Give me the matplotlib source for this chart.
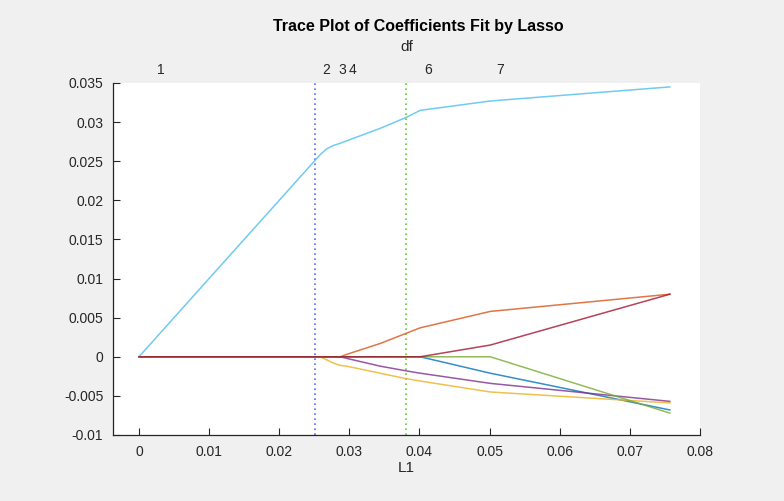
import numpy as np
import matplotlib
matplotlib.use('Agg')
import matplotlib.pyplot as plt

plt.rcParams['font.family'] = ['Liberation Sans', 'DejaVu Sans']

# L1 norm of the coefficient vector at each knot of the lasso path
l1_norm = [0, 0.0258, 0.0268, 0.0277, 0.0287, 0.0296, 0.0344, 0.0381, 0.0401, 0.0501, 0.0757]

# coefficient paths (MATLAB default color order)
coef_blue     = [0, 0, 0, 0, 0, 0, 0, 0, 0, -0.0021, -0.0068]
coef_orange   = [0, 0, 0, 0, 0, 0.0003, 0.0017, 0.0030, 0.0037, 0.0058, 0.0080]
coef_yellow   = [0, 0, -0.0004, -0.0008, -0.0011, -0.0012, -0.0021, -0.0028, -0.0031, -0.0045, -0.0059]
coef_purple   = [0, 0, 0, 0, 0, -0.0002, -0.0012, -0.0018, -0.0021, -0.0034, -0.0057]
coef_green    = [0, 0, 0, 0, 0, 0, 0, 0, 0, 0, -0.0072]
coef_ltblue   = [0, 0.0258, 0.0266, 0.0270, 0.0273, 0.0276, 0.0292, 0.0306, 0.0315, 0.0327, 0.0345]
coef_maroon   = [0, 0, 0, 0, 0, 0, 0, 0, 0, 0.0015, 0.0080]

coefs = [coef_blue, coef_orange, coef_yellow, coef_purple, coef_green, coef_ltblue, coef_maroon]
colors = ['#0072bd', '#d95319', '#edb120', '#7e2f8e', '#77ac30', '#4dbeee', '#a2142f']

# degrees of freedom labels on top axis
df_pos = [0.0031, 0.0267, 0.0290, 0.0304, 0.0412, 0.0515]
df_labels = ['1', '2', '3', '4', '6', '7']

# lambda markers (min MSE / 1SE)
lambda_min = 0.0251
lambda_1se = 0.0381

xticks = [0, 0.01, 0.02, 0.03, 0.04, 0.05, 0.06, 0.07, 0.08]
xticklabels = ['0', '0.01', '0.02', '0.03', '0.04', '0.05', '0.06', '0.07', '0.08']
yticks = [-0.01, -0.005, 0, 0.005, 0.01, 0.015, 0.02, 0.025, 0.03, 0.035]
yticklabels = ['-0.01', '-0.005', '0', '0.005', '0.01', '0.015', '0.02', '0.025', '0.03', '0.035']

ink = '#262626'
fig = plt.figure(figsize=(7.84, 5.01), dpi=100, facecolor='#f0f0f0')
ax = fig.add_axes([113/784, 66/501, 587/784, 352/501])
ax.set_facecolor('white')

ax.axvline(lambda_min, color='#5a6bff', ls=(0, (1, 2)), lw=1.2)
ax.axvline(lambda_1se, color='#66cc33', ls=(0, (1, 2)), lw=1.2)

for c, col in zip(coefs, colors):
    ax.plot(l1_norm, c, color=col, lw=1.1, alpha=0.8)

ax.set_xlim(-0.0037, 0.08)
ax.set_ylim(-0.01, 0.035)
ax.set_xticks(xticks)
ax.set_xticklabels(xticklabels)
ax.set_yticks(yticks)
ax.set_yticklabels(yticklabels)
for s in ['top', 'right']:
    ax.spines[s].set_visible(False)
for s in ['left', 'bottom']:
    ax.spines[s].set_color(ink)
    ax.spines[s].set_linewidth(0.9)
ax.tick_params(direction='in', length=5, width=0.8, color=ink, labelcolor=ink,
               labelsize=10, pad=7)
ax.set_xlabel('L1', fontsize=11, color=ink, labelpad=2)

top = ax.secondary_xaxis('top')
top.set_xticks(df_pos)
top.set_xticklabels(df_labels)
top.spines['top'].set_visible(False)
top.tick_params(length=0, labelsize=10, labelcolor=ink, pad=4)
top.set_xlabel('df', fontsize=11, color=ink, labelpad=9)

fig.text(0.5335, 0.948, 'Trace Plot of Coefficients Fit by Lasso', ha='center', va='center',
         fontsize=11.5, fontweight='bold', color='black')

fig.savefig('out.png', dpi=100, facecolor=fig.get_facecolor())
